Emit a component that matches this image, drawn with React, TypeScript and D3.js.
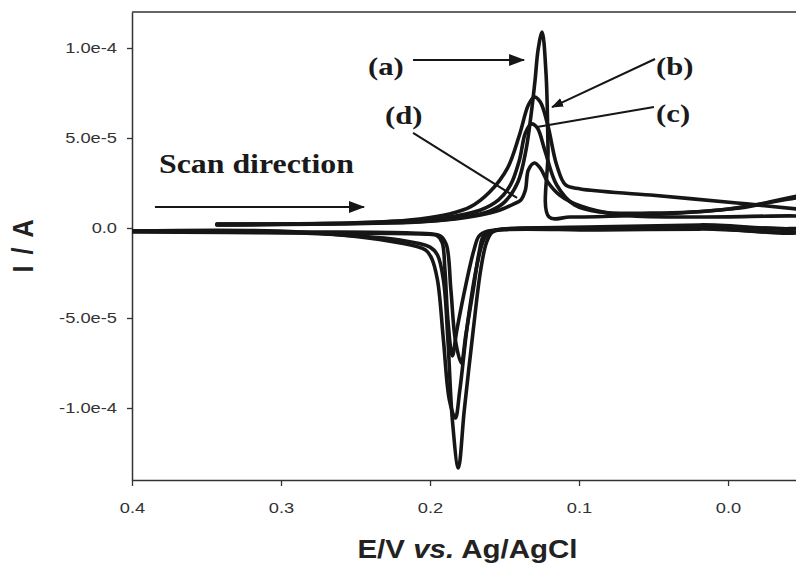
import { useEffect, useRef } from 'react';
import * as d3 from 'd3';

// E (V vs Ag/AgCl), I (µA); each loop = forward scan then reverse scan
const curveA: [number, number][] = [
  [0.4, -1.7], [0.287, -2.8], [0.22, -6.7], [0.2, -10.6], [0.195, -15], [0.191, -28.9],
  [0.188, -62.2], [0.185, -106.7], [0.181, -133.3], [0.177, -101.1], [0.171, -56.7],
  [0.166, -23.3], [0.162, -7.8], [0.158, -2.2], [0.146, -0.6], [0.086, 0.6], [0.019, 1.7],
  [-0.06, 3.0],
  [-0.06, 17], [-0.008, 11.1], [0.032, 8.3], [0.072, 6.7], [0.106, 6.1], [0.1201, 6.1],
  [0.1208, 43.3], [0.1221, 85], [0.1248, 108.9], [0.1275, 98.9], [0.1295, 82.2],
  [0.1322, 62.8], [0.1356, 43.3], [0.141, 25.6], [0.15, 14.4], [0.16, 9.4], [0.177, 6.1],
  [0.2, 3.9], [0.234, 2.8], [0.287, 2.2], [0.343, 2.2],
];

const curveB: [number, number][] = [
  [0.4, -1.7], [0.287, -2.2], [0.22, -8.3], [0.203, -12.2], [0.199, -16.7], [0.195, -28.9],
  [0.191, -62.2], [0.187, -95.6], [0.183, -105.6], [0.18, -90], [0.1745, -51.1],
  [0.1685, -20.6], [0.164, -6.7], [0.16, -2.2], [0.146, -0.6], [0.086, 0], [0.019, 1.1],
  [-0.06, 2.0],
  [-0.06, 9.5], [-0.046, 10.6], [-0.006, 13.9], [0.052, 18.3], [0.099, 21.7], [0.109, 23.9],
  [0.115, 35], [0.121, 57.2], [0.126, 70], [0.13, 72.8], [0.134, 68.3], [0.14, 51.7],
  [0.148, 33.3], [0.16, 20], [0.173, 11.7], [0.187, 7.8], [0.207, 5.0], [0.234, 3.3],
  [0.287, 2.2], [0.343, 1.7],
];

const curveC: [number, number][] = [
  [0.4, -2.2], [0.287, -2.8], [0.207, -3.3], [0.193, -4.4], [0.189, -9.4], [0.186, -34.4],
  [0.183, -62.2], [0.179, -75], [0.176, -59.4], [0.171, -34.4], [0.167, -13.3],
  [0.164, -4.4], [0.156, -1.1], [0.086, -0.6], [0.019, 0], [-0.06, 0.5],
  [-0.06, 18], [-0.046, 16.7], [0.005, 10], [0.052, 8.3], [0.086, 8.9], [0.103, 12.8],
  [0.115, 23.9], [0.123, 43.3], [0.128, 55.6], [0.132, 57.8], [0.136, 52.8], [0.14, 37.8],
  [0.146, 23.9], [0.154, 15.6], [0.166, 10], [0.183, 6.7], [0.207, 4.4], [0.254, 2.8],
  [0.343, 2.2],
];

const curveD: [number, number][] = [
  [0.4, -1.7], [0.287, -2.2], [0.213, -2.8], [0.196, -3.9], [0.192, -7.8], [0.19, -23.3],
  [0.188, -51.1], [0.185, -71.1], [0.182, -56.7], [0.176, -31.7], [0.1705, -12.2],
  [0.167, -4.4], [0.161, -1.7], [0.086, -1.1], [0.019, -0.6], [-0.06, 0],
  [-0.06, 6], [-0.046, 6.7], [0.019, 6.1], [0.072, 7.2], [0.099, 12.2], [0.113, 18.3],
  [0.121, 25.6], [0.126, 33.3], [0.13, 36.1], [0.134, 32.2], [0.136, 21.1], [0.139, 15.6],
  [0.144, 13.3], [0.153, 10], [0.166, 7.2], [0.183, 5], [0.207, 3.3], [0.343, 1.7],
];

const curves = [curveA, curveB, curveC, curveD];

const xTickValues = [0.4, 0.3, 0.2, 0.1, 0.0];
const xTickLabels = ['0.4', '0.3', '0.2', '0.1', '0.0'];
const yTickValues = [100, 50, 0, -50, -100];
const yTickLabels = ['1.0e-4', '5.0e-5', '0.0', '-5.0e-5', '-1.0e-4'];

// curve labels (E, I at text baseline start)
const labelTexts = ['(a)', '(b)', '(c)', '(d)'];
const labelE = [0.2416, 0.0483, 0.0483, 0.2302];
const labelI = [85, 85, 58.9, 57.8];

// pointer lines [E1, I1, E2, I2, arrowhead]
const pointers: [number, number, number, number, string][] = [
  [0.2114, 93.3, 0.1369, 93.3, 'big'],
  [0.049, 93.9, 0.1181, 67.2, 'small'],
  [0.0497, 67.2, 0.1282, 56.1, 'none'],
  [0.2114, 52.8, 0.1416, 16.7, 'none'],
  [0.3846, 11.7, 0.2443, 11.7, 'big'],
];

const W = 796;
const H = 565;
const margin = { top: 12, right: 0, bottom: 85, left: 132 };
const STRETCH = 1.18;

export default function App() {
  const svgRef = useRef<SVGSVGElement>(null);

  useEffect(() => {
    const svg = d3.select(svgRef.current);
    svg.selectAll('*').remove();

    const x = d3.scaleLinear().domain([0.4, -0.0456]).range([margin.left, W - margin.right]);
    const y = d3.scaleLinear().domain([120, -140]).range([margin.top, H - margin.bottom]);

    const defs = svg.append('defs');
    defs.append('clipPath').attr('id', 'plot-clip')
      .append('rect')
      .attr('x', margin.left).attr('y', margin.top)
      .attr('width', W - margin.left).attr('height', H - margin.bottom - margin.top);

    defs.append('marker').attr('id', 'head-big')
      .attr('markerUnits', 'userSpaceOnUse')
      .attr('viewBox', '0 -7 16 14')
      .attr('refX', 15).attr('refY', 0)
      .attr('markerWidth', 16).attr('markerHeight', 14)
      .attr('orient', 'auto')
      .append('path').attr('d', 'M0,-6L16,0L0,6Z').attr('fill', '#161616');

    defs.append('marker').attr('id', 'head-small')
      .attr('markerUnits', 'userSpaceOnUse')
      .attr('viewBox', '0 -5 12 10')
      .attr('refX', 11).attr('refY', 0)
      .attr('markerWidth', 12).attr('markerHeight', 10)
      .attr('orient', 'auto')
      .append('path').attr('d', 'M0,-4.5L12,0L0,4.5Z').attr('fill', '#161616');

    // frame
    svg.append('line')
      .attr('x1', margin.left).attr('x2', W)
      .attr('y1', margin.top).attr('y2', margin.top)
      .attr('stroke', '#333').attr('stroke-width', 1.5);

    // y axis
    const yAxis = svg.append('g')
      .attr('transform', `translate(${margin.left},0)`)
      .call(d3.axisLeft(y)
        .tickValues(yTickValues)
        .tickSize(5)
        .tickSizeOuter(0)
        .tickPadding(7.7)
        // @ts-ignore
        .tickFormat((d, i) => yTickLabels[i]));
    yAxis.select('path').attr('stroke', '#333').attr('stroke-width', 1.5);
    yAxis.selectAll('line').attr('stroke', '#333').attr('stroke-width', 1.3);
    yAxis.selectAll('text')
      .attr('fill', '#333')
      .attr('font-size', 15.5)
      .attr('font-family', '"Liberation Sans", Arial, sans-serif')
      .attr('transform', `scale(${STRETCH},1)`);

    // x axis
    const xAxis = svg.append('g')
      .attr('transform', `translate(0,${H - margin.bottom})`)
      .call(d3.axisBottom(x)
        .tickValues(xTickValues)
        .tickSize(6)
        .tickSizeOuter(0)
        .tickPadding(16)
        // @ts-ignore
        .tickFormat((d, i) => xTickLabels[i]));
    xAxis.select('path').attr('stroke', '#333').attr('stroke-width', 1.5);
    xAxis.selectAll('line').attr('stroke', '#333').attr('stroke-width', 1.3);
    xAxis.selectAll('text')
      .attr('fill', '#333')
      .attr('font-size', 15.5)
      .attr('font-family', '"Liberation Sans", Arial, sans-serif')
      .attr('transform', `scale(${STRETCH},1)`);

    // axis titles
    const xTitle = svg.append('text')
      .attr('transform', `translate(${(357 + 578) / 2},558) scale(${STRETCH},1)`)
      .attr('text-anchor', 'middle')
      .attr('font-family', '"Liberation Sans", Arial, sans-serif')
      .attr('font-weight', 'bold')
      .attr('font-size', 25)
      .attr('fill', '#222');
    xTitle.append('tspan').text('E/V ');
    xTitle.append('tspan').attr('font-style', 'italic').text('vs.');
    xTitle.append('tspan').text(' Ag/AgCl');

    svg.append('text')
      .attr('transform', `translate(33,245) rotate(-90) scale(1,${STRETCH})`)
      .attr('text-anchor', 'middle')
      .attr('font-family', '"Liberation Sans", Arial, sans-serif')
      .attr('font-weight', 'bold')
      .attr('font-size', 25)
      .attr('letter-spacing', 2)
      .attr('fill', '#222')
      .text('I / A');

    // CV loops
    const line = d3.line<[number, number]>()
      .x(d => x(d[0]))
      .y(d => y(d[1]))
      .curve(d3.curveCatmullRom.alpha(0.5));

    const plot = svg.append('g').attr('clip-path', 'url(#plot-clip)');
    curves.forEach(c => {
      plot.append('path')
        .attr('d', line(c))
        .attr('fill', 'none')
        .attr('stroke', '#161616')
        .attr('stroke-width', 3.6)
        .attr('stroke-linejoin', 'round')
        .attr('stroke-linecap', 'round');
    });

    // pointers and arrows
    pointers.forEach(([e1, i1, e2, i2, head]) => {
      const l = svg.append('line')
        .attr('x1', x(e1)).attr('y1', y(i1))
        .attr('x2', x(e2)).attr('y2', y(i2))
        .attr('stroke', '#161616')
        .attr('stroke-width', 2);
      if (head !== 'none') l.attr('marker-end', `url(#head-${head})`);
    });

    // labels
    labelTexts.forEach((t, i) => {
      svg.append('text')
        .attr('transform', `translate(${x(labelE[i])},${y(labelI[i])}) scale(${STRETCH},1)`)
        .attr('font-family', '"Liberation Serif", "Times New Roman", serif')
        .attr('font-weight', 'bold')
        .attr('font-size', 26)
        .attr('fill', '#1a1a1a')
        .text(t);
    });

    svg.append('text')
      .attr('transform', `translate(${x(0.3819)},${y(30.6)}) scale(${STRETCH},1)`)
      .attr('font-family', '"Liberation Serif", "Times New Roman", serif')
      .attr('font-weight', 'bold')
      .attr('font-size', 27)
      .attr('fill', '#1a1a1a')
      .text('Scan direction');
  }, []);

  return (
    <svg
      ref={svgRef}
      width={W}
      height={H}
      style={{ position: 'absolute', left: 0, top: 0, background: '#fff' }}
    />
  );
}
